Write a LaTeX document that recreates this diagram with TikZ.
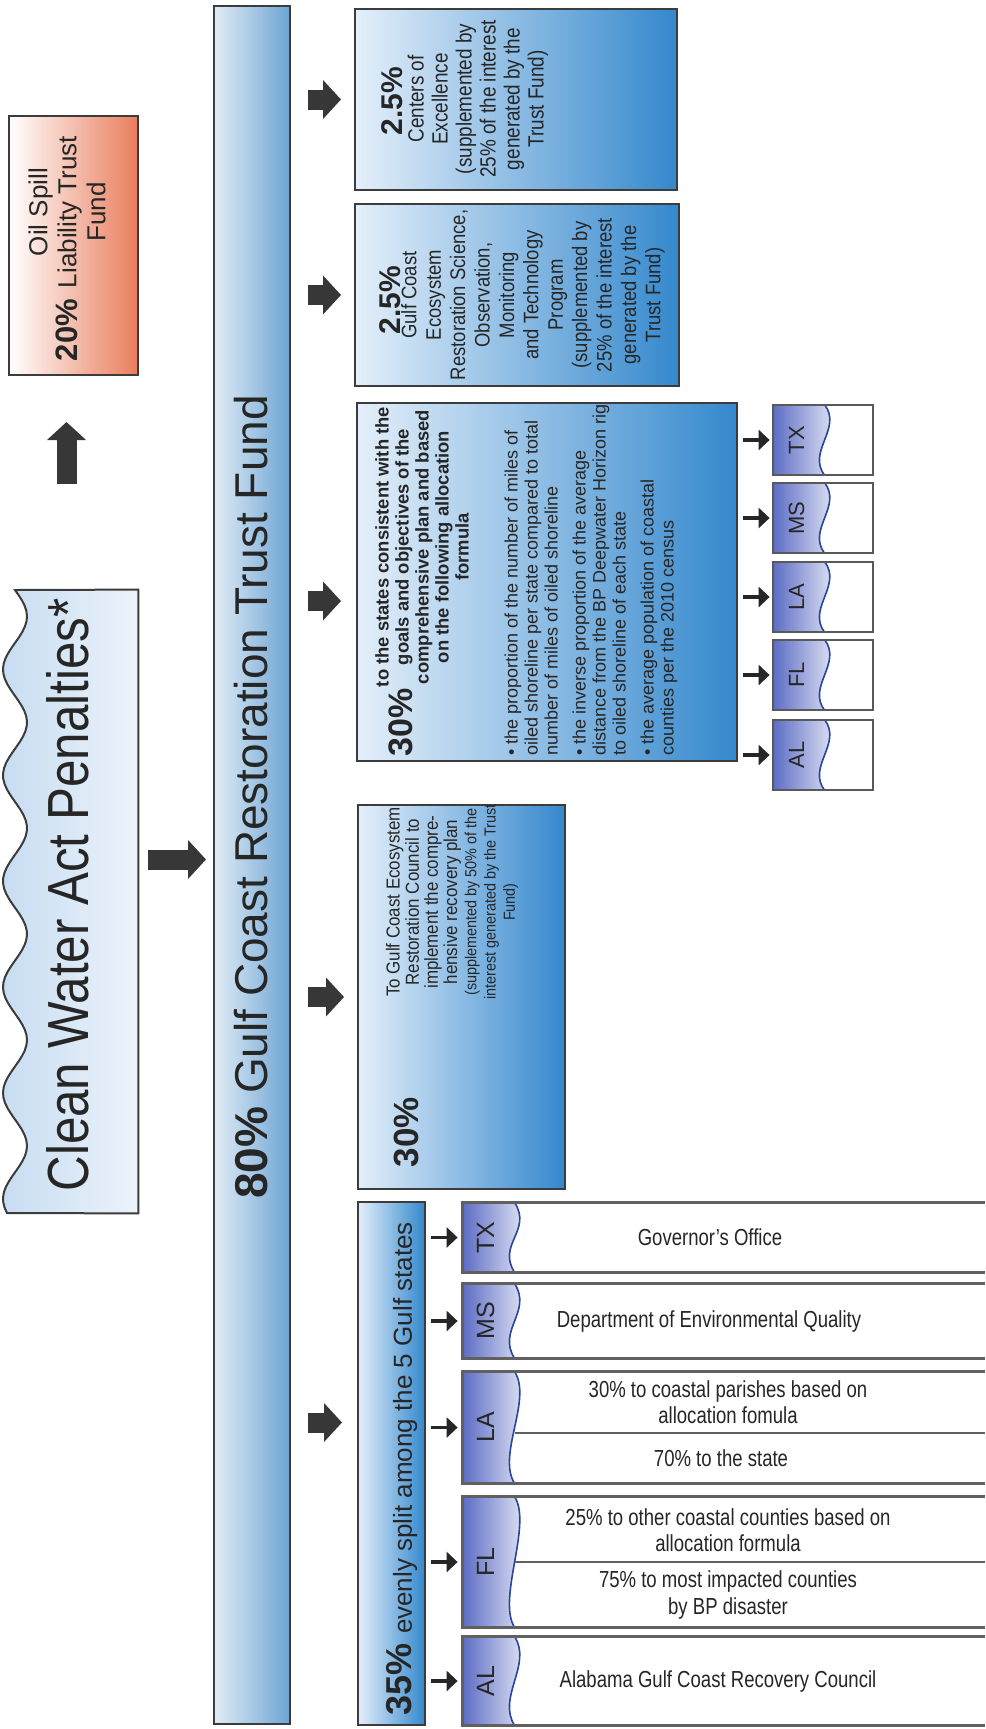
\documentclass[tikz,border=0pt]{standalone}
\usepackage{fontspec}
\setmainfont{Liberation Sans}
\usepackage{tikz}
\usetikzlibrary{arrows.meta,calc,positioning}
\definecolor{oilred}{RGB}{233,125,92}
\definecolor{paleblue}{RGB}{228,239,250}
\definecolor{midblue}{RGB}{52,136,205}
\definecolor{barblue}{RGB}{108,164,211}
\definecolor{cwablue}{RGB}{200,221,242}
\definecolor{tabblue}{RGB}{92,108,196}
\definecolor{waveblue}{RGB}{40,70,160}
\definecolor{boxline}{RGB}{60,60,60}
\definecolor{arrowgray}{RGB}{55,55,55}
\newcommand{\narrow}[1]{\addfontfeatures{FakeStretch=#1}}
\newcommand{\supp}{\fontsize{8}{10.2}\selectfont\narrow{0.9}}

\begin{document}
\begin{tikzpicture}[x=0.5pt,y=-0.5pt,
		colbox/.style={draw=boxline, line width=1pt, left color=paleblue, right color=midblue, inner sep=0pt},
		bigarrow/.style={draw=arrowgray, line width=10pt, -{Triangle[length=9pt,width=19pt]}},
		thinarrow/.style={draw=black!85, line width=1.6pt, -{Triangle[length=5.5pt,width=10pt]}},
		sidetext/.style={rotate=90, align=center, inner sep=0pt, text=black!85},
		smalltab/.style={fill=white, minimum width=50pt, minimum height=35pt, inner sep=0pt},
		row/.style={fill=white, minimum width=261pt, inner sep=0pt},
		tabline/.style={draw=gray!70!black, line width=1pt},
		rowline/.style={draw=gray!75!black, line width=1.4pt},
		wave/.style={draw=waveblue, line width=0.8pt},
		rowtext/.style={align=center, inner sep=0pt, text=black!85, font=\fontsize{11.6}{13.3}\selectfont\narrow{0.8}}
		]
	\useasboundingbox (0,0) rectangle (985,1729);

	% penalties and the 20% fund
	\node[minimum width=61.5pt, minimum height=311.5pt, inner sep=0pt] (cwa) at (76.5,901.5) {};
	\draw[draw=boxline, line width=1pt, left color=cwablue, right color=cwablue!35]
		(cwa.north east) -- (cwa.south east)
		-- plot[domain=1213:590, samples=120] ({15+12*sin((\x-590)*3.4)}, \x) -- cycle;
	\node[sidetext, font=\fontsize{29}{30}\selectfont\narrow{0.85}] (cwa-t) at (68,895) {Clean Water Act Penalties*};

	\node[draw=boxline, line width=1pt, left color=white, right color=oilred,
		minimum width=64.5pt, minimum height=129.5pt, inner sep=0pt] (oil) at (73.5,245.5) {};
	\node[sidetext, font=\bfseries\fontsize{15.5}{17}\selectfont] (oil-p) at (67,330) {20\%};
	\node[sidetext, font=\fontsize{13}{14.5}\selectfont] (oil-t) at (67,212) {Oil Spill\\Liability Trust\\Fund};

	% trust fund bar
	\node[draw=boxline, line width=1pt, left color=white!80!barblue, right color=barblue,
		minimum width=38pt, minimum height=859pt, inner sep=0pt] (bar) at (252,865) {};
	\node[sidetext, font=\fontsize{23}{25}\selectfont] (bar-t) at (251,797) {\textbf{80\%} Gulf Coast Restoration Trust Fund};

	\coordinate (cwa-up) at ($(cwa.north)+(-5pt,0)$);
	\coordinate (cwa-out) at ($(cwa.east)+(0,21pt)$);
	\draw[bigarrow, shorten <=53pt, shorten >=23pt] (cwa-up) -- (cwa-up |- oil.south);
	\draw[bigarrow, shorten <=5pt, shorten >=3.5pt] (cwa-out) -- (cwa-out -| bar.west);

	% the five shares
	\node[colbox, minimum width=161pt, minimum height=90.5pt] (ctr) at (516,99.5) {};
	\node[colbox, minimum width=162pt, minimum height=91pt] (sci) at (517,295) {};
	\node[colbox, minimum width=190pt, minimum height=179pt] (sts) at (547,582) {};
	\node[colbox, minimum width=103.5pt, minimum height=192pt] (ccl) at (461.5,997) {};
	\node[colbox, minimum width=33.5pt, minimum height=261.5pt] (evn) at (391.5,1463.5) {};

	\coordinate (sts-in) at ($(sts.west)+(0,-9.5pt)$);
	\coordinate (evn-in) at ($(evn.west)+(0,20.5pt)$);
	\foreach \b in {ctr,sci,ccl}
		\draw[bigarrow, shorten <=8.5pt, shorten >=6.5pt] (\b.west -| bar.east) -- (\b.west);
	\draw[bigarrow, shorten <=8.5pt, shorten >=7.5pt] (sts-in -| bar.east) -- (sts-in);
	\draw[bigarrow, shorten <=8.5pt, shorten >=7.5pt] (evn-in -| bar.east) -- (evn-in);

	\node[sidetext, font=\bfseries\fontsize{15}{16}\selectfont] (ctr-p) at (392,101) {2.5\%};
	\node[sidetext, font=\fontsize{11}{12}\selectfont\narrow{0.86}] (ctr-t) at (478,99) {Centers of\\Excellence\\(supplemented by\\25\% of the interest\\generated by the\\Trust Fund)};

	\node[sidetext, font=\bfseries\fontsize{15}{16}\selectfont] (sci-p) at (390,300) {2.5\%};
	\node[sidetext, font=\fontsize{10.5}{12.2}\selectfont\narrow{0.88}] (sci-t) at (533,295) {Gulf Coast\\Ecosystem\\Restoration Science,\\Observation,\\Monitoring\\and Technology\\Program\\(supplemented by\\25\% of the interest\\generated by the\\Trust Fund)};

	\node[sidetext, font=\bfseries\fontsize{17}{19}\selectfont] (sts-p) at (401,722) {30\%};
	\node[sidetext, font=\bfseries\fontsize{9.2}{10}\selectfont] (sts-h) at (422,547) {to the states consistent with the\\goals and objectives of the\\comprehensive plan and based\\on the following allocation\\formula};
	\node[sidetext, align=left, font=\fontsize{9}{10}\selectfont] (sts-b) at (591,580) {\textbullet\ the proportion of the number of miles of\\oiled shoreline per state compared to total\\number of miles of oiled shoreline\\[4pt]\textbullet\ the inverse proportion of the average\\distance from the BP Deepwater Horizon rig\\to oiled shoreline of each state\\[4pt]\textbullet\ the average population of coastal\\counties per the 2010 census};

	\node[sidetext, font=\bfseries\fontsize{17.5}{19}\selectfont] (ccl-p) at (406,1132) {30\%};
	\node[sidetext, font=\fontsize{9.4}{9.6}\selectfont\narrow{0.9}] (ccl-t) at (452,902) {To Gulf Coast Ecosystem\\Restoration Council to\\implement the compre-\\hensive recovery plan\\\supp (supplemented by 50\% of the\\\supp interest generated by the Trust\\\supp Fund)};

	\node[sidetext, font=\fontsize{13}{15}\selectfont] (evn-t) at (402,1469) {{\bfseries\fontsize{18}{20}\selectfont 35\%}\hspace{5pt}evenly split among the 5 Gulf states};

	% states under the 30% allocation formula
	\foreach \st/\yy in {TX/440,MS/518,LA/597,FL/675,AL/755}{
		\node[smalltab] (s\st) at (823,\yy) {};
		\fill[left color=tabblue, right color=tabblue!8]
			(s\st.north west) -- ($(s\st.north west)+(26pt,0)$)
			.. controls +(9pt,-12pt) and +(-9pt,12pt) .. ($(s\st.south west)+(26pt,0)$)
			-- (s\st.south west) -- cycle;
		\draw[wave] ($(s\st.north west)+(26pt,0)$) .. controls +(9pt,-12pt) and +(-9pt,12pt) .. ($(s\st.south west)+(26pt,0)$);
		\draw[tabline] (s\st.north west) rectangle (s\st.south east);
		\node[sidetext, font=\fontsize{11}{12}\selectfont] (s\st-l) at ($(s\st.west)+(12pt,0)$) {\st};
		\draw[thinarrow, shorten <=2.5pt, shorten >=1.5pt] (s\st.west -| sts.east) -- (s\st.west);
	}

	% states under the 35% even split
	\foreach \st/\yy/\hh in {TX/1237.5/34.5,MS/1321/37,LA/1427.5/55.5,FL/1562/65,AL/1681/44}{
		\node[row, minimum height=\hh pt] (r\st) at (724,\yy) {};
		\fill[left color=tabblue, right color=tabblue!8]
			(r\st.north west) -- ($(r\st.north west)+(26pt,0)$)
			.. controls +(9pt,-14pt) and +(-9pt,14pt) .. ($(r\st.south west)+(26pt,0)$)
			-- (r\st.south west) -- cycle;
		\draw[wave] ($(r\st.north west)+(26pt,0)$) .. controls +(9pt,-14pt) and +(-9pt,14pt) .. ($(r\st.south west)+(26pt,0)$);
		\draw[rowline] (r\st.north east) -- (r\st.north west) -- (r\st.south west) -- (r\st.south east);
		\node[sidetext, font=\fontsize{12.5}{14}\selectfont] (r\st-l) at ($(r\st.west)+(11.5pt,0)$) {\st};
		\draw[thinarrow, shorten <=2.5pt, shorten >=2.5pt] (r\st.west -| evn.east) -- (r\st.west);
	}
	\draw[rowline] ($(rLA.west)+(26pt,-2.75pt)$) -- ($(rLA.east)+(0,-2.75pt)$);
	\draw[rowline] ($(rFL.west)+(26pt,0)$) -- (rFL.east);

	\node[rowtext] (rTX-t) at (710,1237.5) {Governor's Office};
	\node[rowtext] (rMS-t) at (709,1321) {Department of Environmental Quality};
	\node[rowtext] (rLA-a) at (728,1402) {30\% to coastal parishes based on\\allocation fomula};
	\node[rowtext] (rLA-b) at (721,1458) {70\% to the state};
	\node[rowtext] (rFL-a) at (728,1530) {25\% to other coastal counties based on\\allocation formula};
	\node[rowtext] (rFL-b) at (728,1595) {75\% to most impacted counties\\by BP disaster};
	\node[rowtext] (rAL-t) at (718,1681) {Alabama Gulf Coast Recovery Council};

\end{tikzpicture}
\end{document}
